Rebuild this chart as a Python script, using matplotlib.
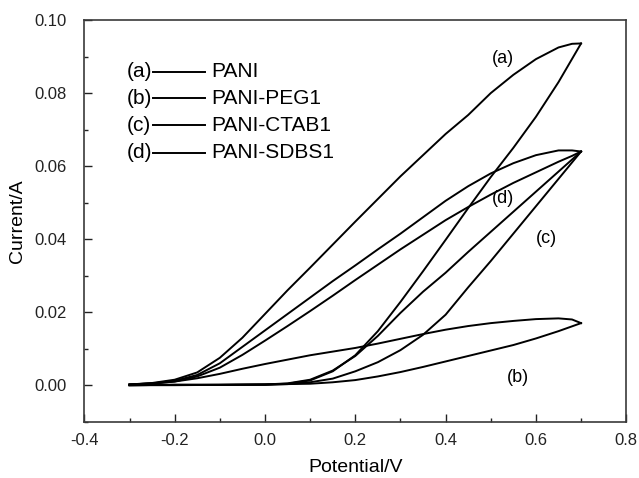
import matplotlib
matplotlib.use("Agg")
import matplotlib.pyplot as plt
from matplotlib.ticker import MultipleLocator
from matplotlib.lines import Line2D

plt.rcParams['font.family'] = ['Liberation Sans', 'DejaVu Sans']

# ---- data ----
v_up = [-0.30, -0.25, -0.20, -0.15, -0.10, -0.05, 0.00, 0.05, 0.10, 0.15, 0.20,
        0.25, 0.30, 0.35, 0.40, 0.45, 0.50, 0.55, 0.60, 0.65, 0.68, 0.70]
v_dn = [0.70, 0.65, 0.60, 0.55, 0.50, 0.45, 0.40, 0.35, 0.30, 0.25, 0.20,
        0.15, 0.10, 0.05, 0.00, -0.10, -0.20, -0.30]

a_up = [0.0002, 0.0006, 0.0015, 0.0035, 0.0075, 0.0130, 0.0195, 0.0260, 0.0322, 0.0385, 0.0448,
        0.0510, 0.0572, 0.0630, 0.0688, 0.0740, 0.0800, 0.0850, 0.0893, 0.0925, 0.0935, 0.0936]
a_dn = [0.0936, 0.0830, 0.0735, 0.0650, 0.0570, 0.0485, 0.0398, 0.0312, 0.0228, 0.0148, 0.0082,
        0.0038, 0.0013, 0.0004, 0.0002, 0.0001, 0.0001, 0.0000]

b_up = [0.0002, 0.0005, 0.0010, 0.0019, 0.0031, 0.0045, 0.0058, 0.0070, 0.0082, 0.0092, 0.0102,
        0.0114, 0.0127, 0.0140, 0.0152, 0.0162, 0.0170, 0.0176, 0.0181, 0.0183, 0.0180, 0.0170]
b_dn = [0.0170, 0.0148, 0.0128, 0.0110, 0.0095, 0.0080, 0.0065, 0.0050, 0.0036, 0.0024, 0.0014,
        0.0008, 0.0004, 0.0003, 0.0002, 0.0001, 0.0001, 0.0000]

c_up = [0.0002, 0.0004, 0.0010, 0.0024, 0.0048, 0.0083, 0.0122, 0.0162, 0.0203, 0.0245, 0.0288,
        0.0330, 0.0372, 0.0412, 0.0452, 0.0488, 0.0522, 0.0554, 0.0583, 0.0612, 0.0628, 0.0640]
c_dn = [0.0640, 0.0565, 0.0490, 0.0415, 0.0340, 0.0268, 0.0193, 0.0138, 0.0096, 0.0063, 0.0038,
        0.0018, 0.0008, 0.0003, 0.0001, 0.0001, 0.0000, 0.0000]

d_up = [0.0002, 0.0005, 0.0012, 0.0028, 0.0060, 0.0105, 0.0150, 0.0195, 0.0240, 0.0285, 0.0328,
        0.0372, 0.0415, 0.0460, 0.0505, 0.0545, 0.0580, 0.0608, 0.0630, 0.0643, 0.0643, 0.0640]
d_dn = [0.0640, 0.0585, 0.0530, 0.0475, 0.0420, 0.0365, 0.0308, 0.0256, 0.0198, 0.0135, 0.0080,
        0.0040, 0.0015, 0.0005, 0.0002, 0.0001, 0.0001, 0.0000]

curve_tags = ['(a)', '(b)', '(c)', '(d)']
legend_names = ['PANI', 'PANI-PEG1', 'PANI-CTAB1', 'PANI-SDBS1']
tag_pos = {'(a)': (0.527, 0.0896), '(b)': (0.56, 0.0022),
           '(c)': (0.624, 0.0403), '(d)': (0.527, 0.0512)}

x_ticks = [-0.4, -0.2, 0.0, 0.2, 0.4, 0.6, 0.8]
y_ticks = [0.00, 0.02, 0.04, 0.06, 0.08, 0.10]

# ---- figure ----
fig = plt.figure(figsize=(6.39, 4.78), dpi=100)
ax = fig.add_axes([0.132, 0.117, 0.848, 0.841])

for up, dn in [(a_up, a_dn), (b_up, b_dn), (c_up, c_dn), (d_up, d_dn)]:
    ax.plot(v_up, up, color='black', lw=1.4, solid_joinstyle='round')
    ax.plot(v_dn, dn, color='black', lw=1.4, solid_joinstyle='round')

for t in curve_tags:
    x, y = tag_pos[t]
    ax.text(x, y, t, fontsize=13, ha='center', va='center')

ax.set_xlim(-0.4, 0.8)
ax.set_ylim(-0.0101, 0.10)
ax.set_xticks(x_ticks)
ax.set_xticklabels([f"{v:.1f}" for v in x_ticks])
ax.set_yticks(y_ticks)
ax.set_yticklabels([f"{v:.2f}" for v in y_ticks])
ax.xaxis.set_minor_locator(MultipleLocator(0.1))
ax.yaxis.set_minor_locator(MultipleLocator(0.01))
ax.tick_params(which='both', direction='in', top=False, right=False,
               labelsize=12, colors='#222222')
ax.tick_params(which='major', length=6, width=1.0)
ax.tick_params(axis='x', which='major', pad=8)
ax.tick_params(axis='y', which='major', pad=13)
ax.tick_params(which='minor', length=3, width=1.0)
for s in ax.spines.values():
    s.set_color('#3a3a3a')
    s.set_linewidth(1.2)

ax.set_xlabel('Potential/V', fontsize=14, labelpad=8)
ax.set_ylabel('Current/A', fontsize=14, labelpad=6)

# manual legend: "(x)——  name"
row_y = [0.872, 0.805, 0.738, 0.670]
for i, (t, n) in enumerate(zip(curve_tags, legend_names)):
    y = row_y[i]
    ax.text(0.078, y, t, transform=ax.transAxes, fontsize=15, ha='left', va='center')
    ax.add_line(Line2D([0.127, 0.223], [y, y], transform=ax.transAxes,
                       color='black', lw=1.4))
    ax.text(0.234, y, n, transform=ax.transAxes, fontsize=15, ha='left', va='center')

fig.savefig('out.png', dpi=100)
